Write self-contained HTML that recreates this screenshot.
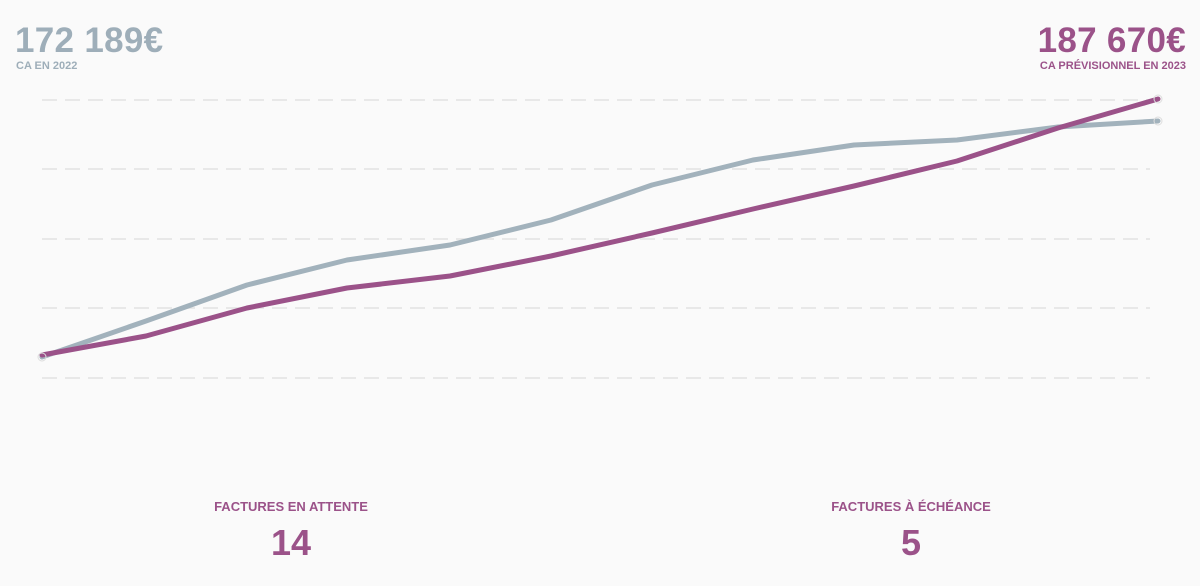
<!DOCTYPE html>
<html><head><meta charset="utf-8"><style>
body{margin:0;width:1200px;height:586px;background:#fafafa;font-family:"Liberation Sans",sans-serif;overflow:hidden;position:relative}
.t{position:absolute;font-weight:bold;white-space:nowrap}
</style></head><body>
<div class="t" style="left:15px;top:21px;font-size:35px;color:#9eaeb9;letter-spacing:0.3px">172 189€</div>
<div class="t" style="left:16px;top:60px;font-size:11px;color:#9eaeb9">CA EN 2022</div>
<div class="t" style="right:14px;top:21px;font-size:35px;color:#9b5289;letter-spacing:0.3px">187 670€</div>
<div class="t" style="right:14px;top:60px;font-size:11px;color:#9b5289">CA PRÉVISIONNEL EN 2023</div>
<svg width="1200" height="586" style="position:absolute;left:0;top:0">
<g stroke="#e2e2e2" stroke-width="1.5" stroke-dasharray="15,8">
<line x1="42" x2="1150" y1="100" y2="100"/><line x1="42" x2="1150" y1="169" y2="169"/>
<line x1="42" x2="1150" y1="239" y2="239"/><line x1="42" x2="1150" y1="308" y2="308"/>
<line x1="42" x2="1150" y1="378" y2="378"/></g>
<polyline fill="none" stroke="#a2b2bc" stroke-width="5" stroke-linejoin="round" stroke-linecap="round" points="42,357 146,321 247,285 347,260 450,245 551,220 652,185 753,160 854,145 957,140 1058,127 1158,121"/>
<polyline fill="none" stroke="#9b5289" stroke-width="5" stroke-linejoin="round" stroke-linecap="round" points="42,355 146,336 247,308 347,288 450,276 551,256 652,233 753,209 854,186 957,161 1058,128 1158,99"/>
<g fill="none" stroke="#ddd" stroke-width="1"><circle cx="1158" cy="99" r="4"/><circle cx="1158" cy="121" r="4"/><circle cx="42" cy="357" r="4"/></g>
</svg>
<div class="t" style="left:191px;width:200px;text-align:center;top:499px;font-size:13px;color:#9b5289">FACTURES EN ATTENTE</div>
<div class="t" style="left:191px;width:200px;text-align:center;top:522px;font-size:36px;color:#9b5289">14</div>
<div class="t" style="left:811px;width:200px;text-align:center;top:499px;font-size:13px;color:#9b5289">FACTURES À ÉCHÉANCE</div>
<div class="t" style="left:811px;width:200px;text-align:center;top:522px;font-size:36px;color:#9b5289">5</div>
</body></html>
